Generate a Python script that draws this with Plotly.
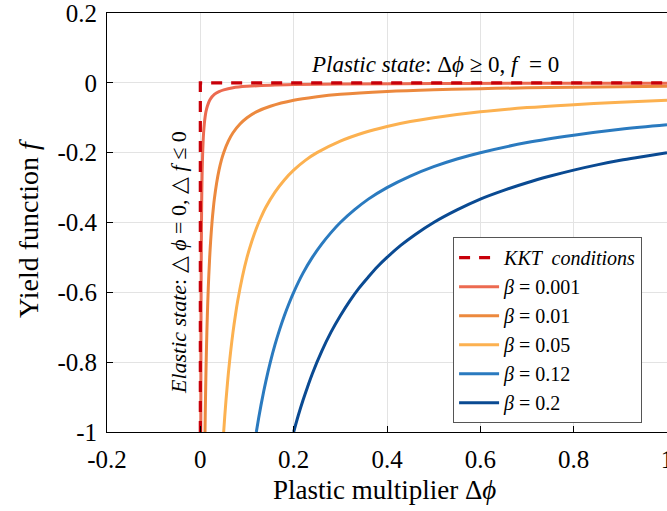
import plotly.graph_objects as go

# Yield function f versus plastic multiplier for several regularisation values beta
beta_labels = ["0.001", "0.01", "0.05", "0.12", "0.2"]
beta_colors = ["#EC6A50", "#EC893E", "#FCB150", "#2A7ABF", "#0A4A92"]

x_b0001 = [0.001, 0.0011, 0.0012, 0.0013, 0.0015, 0.0017, 0.002, 0.0023, 0.0026, 0.003,
           0.0035, 0.004, 0.005, 0.006, 0.007, 0.0085, 0.01, 0.012, 0.015, 0.02,
           0.025, 0.03, 0.04, 0.05, 0.07, 0.1, 0.15, 0.2, 0.3, 0.5, 0.7, 1.0]
y_b0001 = [-1.0, -0.909, -0.833, -0.769, -0.667, -0.588, -0.5, -0.435, -0.385, -0.333,
           -0.286, -0.25, -0.2, -0.167, -0.143, -0.118, -0.1, -0.083, -0.067, -0.05,
           -0.04, -0.033, -0.025, -0.02, -0.014, -0.01, -0.0067, -0.005, -0.0033,
           -0.002, -0.0014, -0.001]

x_b001 = [0.01, 0.0105, 0.011, 0.0115, 0.012, 0.013, 0.014, 0.015, 0.016, 0.018, 0.02,
          0.022, 0.025, 0.028, 0.03, 0.035, 0.04, 0.045, 0.05, 0.06, 0.07, 0.085, 0.1,
          0.12, 0.15, 0.2, 0.25, 0.3, 0.4, 0.5, 0.6, 0.7, 0.85, 1.0]
y_b001 = [-1.0, -0.952, -0.909, -0.87, -0.833, -0.769, -0.714, -0.667, -0.625, -0.556,
          -0.5, -0.455, -0.4, -0.357, -0.333, -0.286, -0.25, -0.222, -0.2, -0.167,
          -0.143, -0.118, -0.1, -0.083, -0.067, -0.05, -0.04, -0.033, -0.025, -0.02,
          -0.0167, -0.0143, -0.0118, -0.01]

x_b005 = [0.05, 0.0525, 0.055, 0.0575, 0.06, 0.065, 0.07, 0.075, 0.08, 0.09, 0.1, 0.11,
          0.12, 0.13, 0.14, 0.16, 0.18, 0.2, 0.225, 0.25, 0.3, 0.35, 0.4, 0.45, 0.5,
          0.6, 0.7, 0.8, 0.9, 1.0]
y_b005 = [-1.0, -0.952, -0.909, -0.87, -0.833, -0.769, -0.714, -0.667, -0.625, -0.556,
          -0.5, -0.455, -0.417, -0.385, -0.357, -0.313, -0.278, -0.25, -0.222, -0.2,
          -0.167, -0.143, -0.125, -0.111, -0.1, -0.083, -0.071, -0.0625, -0.0556, -0.05]

x_b012 = [0.12, 0.125, 0.13, 0.135, 0.14, 0.15, 0.16, 0.17, 0.18, 0.19, 0.2, 0.22, 0.24,
          0.26, 0.28, 0.3, 0.33, 0.36, 0.4, 0.45, 0.5, 0.55, 0.6, 0.7, 0.8, 0.9, 1.0]
y_b012 = [-1.0, -0.96, -0.923, -0.889, -0.857, -0.8, -0.75, -0.706, -0.667, -0.632,
          -0.6, -0.545, -0.5, -0.462, -0.429, -0.4, -0.364, -0.333, -0.3, -0.267,
          -0.24, -0.218, -0.2, -0.171, -0.15, -0.133, -0.12]

x_b02 = [0.2, 0.21, 0.22, 0.23, 0.24, 0.26, 0.28, 0.3, 0.32, 0.34, 0.36, 0.38, 0.4,
         0.43, 0.46, 0.5, 0.55, 0.6, 0.65, 0.7, 0.75, 0.8, 0.85, 0.9, 0.95, 1.0]
y_b02 = [-1.0, -0.952, -0.909, -0.87, -0.833, -0.769, -0.714, -0.667, -0.625, -0.588,
         -0.556, -0.526, -0.5, -0.465, -0.435, -0.4, -0.364, -0.333, -0.308, -0.286,
         -0.267, -0.25, -0.235, -0.222, -0.211, -0.2]

# KKT complementarity path: elastic branch (x = 0) then plastic branch (f = 0)
kkt_x = [0.0, 0.0, 1.0]
kkt_y = [-1.0, 0.0, 0.0]

x_ticks = [-0.2, 0, 0.2, 0.4, 0.6, 0.8, 1.0]
x_tick_text = ["-0.2", "0", "0.2", "0.4", "0.6", "0.8", "1"]
y_ticks = [-1.0, -0.8, -0.6, -0.4, -0.2, 0, 0.2]
y_tick_text = ["-1", "-0.8", "-0.6", "-0.4", "-0.2", "0", "0.2"]

FONT = "Liberation Serif, Times New Roman, serif"

series = [(x_b0001, y_b0001), (x_b001, y_b001), (x_b005, y_b005),
          (x_b012, y_b012), (x_b02, y_b02)]

fig = go.Figure()
for i, ((xs, ys), lab, col) in enumerate(zip(series, beta_labels, beta_colors)):
    fig.add_trace(go.Scatter(
        x=xs, y=ys, mode="lines",
        line=dict(color=col, width=3, shape="spline", smoothing=1.0),
        name=f"<i>β</i> = {lab}", legendrank=i + 2,
    ))

fig.add_trace(go.Scatter(
    x=kkt_x, y=kkt_y, mode="lines",
    line=dict(color="#C8000A", width=3.2, dash="11px,9px"),
    name="<i>KKT  conditions</i>", legendrank=1,
))

fig.add_annotation(
    x=0.503, y=0.012, xref="x", yref="y", yanchor="bottom", showarrow=False,
    text="<i>Plastic state</i>: Δ<i>ϕ</i> ≥ 0, <i>f</i>  = 0",
    font=dict(family=FONT, size=23, color="black"),
)
fig.add_annotation(
    x=-0.047, y=-0.515, xref="x", yref="y", showarrow=False, textangle=-90,
    text="<i>Elastic state</i>: △ <i>ϕ</i> = 0, △ <i>f</i> ≤ 0",
    font=dict(family=FONT, size=22, color="black"),
)

L, R, T, B = 107, 0, 13, 79
W, H = 667, 511

# Axis titles as annotations centred on given pixel positions
def px_to_paper(px, py):
    return (px - L) / (W - L - R), (H - B - py) / (H - T - B)

tx, ty = px_to_paper(384, 490)
fig.add_annotation(
    x=tx, y=ty, xref="paper", yref="paper", xanchor="center", yanchor="middle",
    showarrow=False, text="Plastic multiplier Δ<i>ϕ</i>",
    font=dict(family=FONT, size=27, color="black"),
)
tx, ty = px_to_paper(28, 229)
fig.add_annotation(
    x=tx, y=ty, xref="paper", yref="paper", xanchor="center", yanchor="middle",
    showarrow=False, textangle=-90, text="Yield function <i>f</i>",
    font=dict(family=FONT, size=28, color="black"),
)

axis_common = dict(
    showline=True, linecolor="black", linewidth=1, mirror=True,
    ticks="inside", ticklen=6, tickcolor="black",
    showgrid=True, gridcolor="#e3e3e3", gridwidth=1, zeroline=False,
    tickfont=dict(family=FONT, size=25, color="black"),
    ticklabeloverflow="allow", automargin=False,
)

fig.update_xaxes(range=[-0.2, 1.0], tickvals=x_ticks, ticktext=x_tick_text,
                 ticklabelstandoff=5, **axis_common)
fig.update_yaxes(range=[-1.0, 0.2], tickvals=y_ticks, ticktext=y_tick_text,
                 ticklabelstandoff=4, **axis_common)

fig.update_layout(
    width=W, height=H,
    margin=dict(l=L, r=R, t=T, b=B),
    plot_bgcolor="white", paper_bgcolor="white",
    font=dict(family=FONT, color="black"),
    legend=dict(
        x=0.618, y=0.465, xanchor="left", yanchor="top",
        bgcolor="white", bordercolor="#555555", borderwidth=1,
        font=dict(family=FONT, size=20, color="black"),
        tracegroupgap=0, itemwidth=40,
    ),
)

fig.write_html("out.html")
